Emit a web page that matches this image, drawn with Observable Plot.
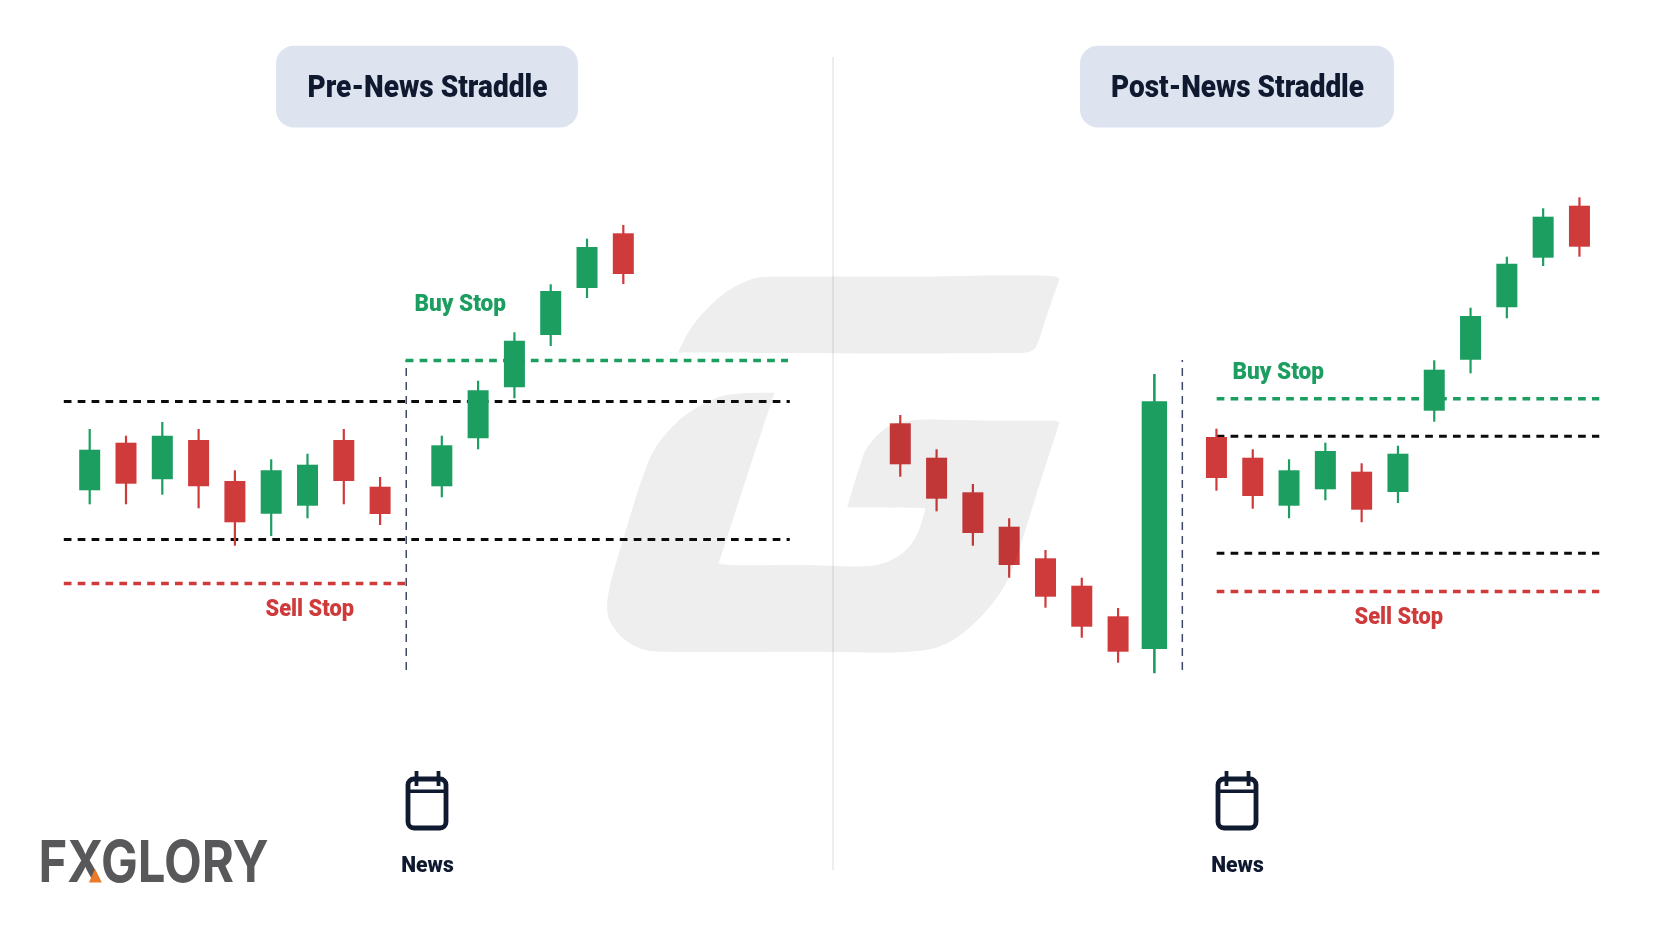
<!DOCTYPE html>
<html>
<head>
<meta charset="utf-8">
<script src="https://cdn.jsdelivr.net/npm/d3@7"></script>
<script src="https://cdn.jsdelivr.net/npm/@observablehq/plot@0.6"></script>
<style>
html,body{margin:0;padding:0;background:#fff}
svg{display:block}
</style>
</head>
<body>
<div id="chart"></div>
<script>
// ---- Candles: bars are in candle-spacing units, prices in chart units ----
const preBars = [0,1,2,3,4,5,6,7,8,9.7,10.7,11.7,12.7,13.7,14.7];
const preOpen  = [437.7,485.3,448.7,488,447,414.3,422.3,488,441.3,441.7,489.7,540.7,593,640,694.7];
const preClose = [478.3,444.3,492.3,441.7,405.7,457.7,463.3,447,414,482.7,537.7,587.3,637,681,654];
const preHigh  = [499,492.3,506,499,457.7,468.7,474.3,499,451,492.3,547.3,595.7,643.7,689.3,703];
const preLow   = [423.7,423.7,433.3,419.7,382.3,392,409.7,423.7,403,430.7,478.7,529.7,582,630,644];

const postBars = [22.33,23.33,24.33,25.33,26.33,27.33,28.33,29.33,31.04,32.04,33.04,34.04,35.04,36.04,37.04,38.04,39.04,40.04,41.04];
const postOpen  = [504.7,470.3,435.7,401.3,369.7,342.3,311.7,279,491,470.3,422.3,438.7,456.3,436,517.3,568.3,620.7,670.3,722.3];
const postClose = [463.7,429.3,395,363,331.3,301.3,276.3,526.7,450,432,457.7,477,418.3,474.3,558.3,612,664.3,711.3,681.3];
const postHigh  = [513,478.7,444,409.7,378,350.3,320,554,499.3,478.7,468.7,485.3,464.7,482.3,567.7,620.3,671.3,719.7,730.7];
const postLow   = [451.3,416.7,382.3,350.3,320.3,290.3,265.3,254.7,437.3,419.3,409.7,427.7,405.7,425,506.3,554.7,609.7,662,671.3];

// ---- Levels ----
const levelNames = ["upper","lower","buy","sell","upper","lower","buy","sell"];
const levelPrice = [527,389,568,345,492.3,375.3,529.7,337];
const levelFrom  = [-0.7,-0.7,8.72,-0.7,31.06,31.06,31.06,31.06];
const levelTo    = [19.3,19.3,19.25,8.72,41.6,41.6,41.6,41.6];

const newsBars = [8.72,30.1];
const newsTop = 568;
const newsBottom = 258;

// ---- Text ----
const panelTitles = ["Pre-News Straddle","Post-News Straddle"];
const panelCenters = [427,1237];
const stopLabels = ["Buy Stop","Sell Stop","Buy Stop","Sell Stop"];
const newsLabel = "News";
const logoText = "FXGLORY";

// ---- Page furniture outlines (page coordinates; repeated points keep corners sharp) ----
const markTop = [[678.3,350.7],[678.3,350.7],[690,328.3],[705,310],[723.3,293.3],[740,283.3],[756.7,277.3],[776.7,276.3],[900,276.3],[1055,276.3],[1059,278.3],[1059,278.3],[1047,313],[1035,347.3],[1031.7,350],[1023.3,352.3],[1010,352.5],[890,353],[780,352.5],[678.3,352],[678.3,352]];
const markBottom = [[774,392.3],[774,392.3],[746.7,392.7],[723.3,395],[706.7,401.7],[686.7,413.3],[668.3,430],[653.3,450],[643.3,473.3],[623.3,536.7],[610,583.3],[606.7,603.3],[608.3,618.3],[616.7,631.7],[630,643.3],[646.7,650],[670,651.3],[800,651.3],[906.7,651.3],[936.7,646.7],[956.7,636.7],[980,616.7],[1000,591.7],[1010,573.3],[1035,497],[1059,421.7],[1059,421.7],[1055,420.3],[1055,420.3],[980,420],[910,420],[890,425],[876.7,435],[865,450],[860,463.3],[846.7,506.7],[846.7,506.7],[885,507],[925,507.7],[925,507.7],[918.3,530],[908.3,546.7],[893.3,558.3],[873.3,565],[800,564.5],[723.3,564],[718.3,562.7],[718.3,562.7],[746,477],[774,392.3],[774,392.3]];
const logoWedge = [[95,867],[103,883],[88,883]];

// ---- Styles ----
const GREEN = "#1b9e5f", RED = "#cf3a3b", BLACK = "#0b0b0b", INK = "#0f1a30";
const levelColor = {upper:BLACK, lower:BLACK, buy:GREEN, sell:RED};

// page pixel -> scale units
const STEP = 36.3, ORIGIN = 89.2;
const bx = px => (px - ORIGIN) / STEP;
const by = py => 928 - py;
const pts = a => a.map(([x,y]) => ({x:bx(x), y:by(y)}));

const candles = (bars,o,c,h,l) => bars.map((bar,i) => ({bar,open:o[i],close:c[i],high:h[i],low:l[i]}));
const allCandles = [...candles(preBars,preOpen,preClose,preHigh,preLow), ...candles(postBars,postOpen,postClose,postHigh,postLow)];
const big = d => Math.abs(d.open - d.close) > 100;
const color = d => d.close > d.open ? GREEN : RED;

const levels = levelPrice.map((price,i) => ({price,x1:levelFrom[i],x2:levelTo[i],name:levelNames[i]}));

const titleBoxes = [
  {x1:bx(276),x2:bx(578),y1:by(45.7),y2:by(127.5)},
  {x1:bx(1080),x2:bx(1394),y1:by(45.7),y2:by(127.5)}
];
const titles = panelTitles.map((t,i) => ({t,x:bx(panelCenters[i]),y:by(87)}));
const stops = [
  {t:stopLabels[0],x:bx(414),y:by(303),c:GREEN},
  {t:stopLabels[1],x:bx(265),y:by(607.5),c:RED},
  {t:stopLabels[2],x:bx(1232),y:by(370.5),c:GREEN},
  {t:stopLabels[3],x:bx(1354),y:by(615.5),c:RED}
];
const textWidths = {"Pre-News Straddle":240,"Post-News Straddle":253,"Buy Stop":91.5,"Sell Stop":88.5,"News":52.5,"FXGLORY":230};

const cal = panelCenters.map(c => ({c}));

const chart = Plot.plot({
  width:1664, height:928, margin:0,
  style:{background:"#fff"},
  x:{domain:[bx(0),bx(1664)],range:[0,1664],axis:null},
  y:{domain:[0,928],range:[928,0],axis:null},
  marks:[
    Plot.ruleX([bx(832.5)],{y1:by(57),y2:by(870),stroke:"#d8dce8",strokeWidth:1}),
    Plot.rect(titleBoxes,{x1:"x1",x2:"x2",y1:"y1",y2:"y2",fill:"#dde4f0",rx:18}),
    Plot.text(titles,{x:"x",y:"y",text:"t",fill:INK,fontFamily:"Roboto",fontWeight:900,fontSize:30.5,textAnchor:"middle",lineAnchor:"middle"}),
    Plot.ruleX(newsBars,{y1:newsBottom,y2:newsTop,stroke:"#3d4a66",strokeWidth:1.5,strokeDasharray:"8 6"}),
    Plot.ruleY(levels,{y:"price",x1:"x1",x2:"x2",stroke:d=>levelColor[d.name],strokeWidth:d=>d.name==="buy"||d.name==="sell"?3.4:3,strokeDasharray:"7.7 6.2"}),
    Plot.ruleX(allCandles,{x:"bar",y1:"low",y2:"high",stroke:color,strokeWidth:d=>big(d)?2.6:2.2}),
    Plot.ruleX(allCandles,{x:"bar",y1:"open",y2:"close",stroke:color,strokeWidth:d=>big(d)?25.4:21}),
    // watermark laid over the candles
    Plot.line(pts(markTop),{x:"x",y:"y",fill:"#eeeeee",stroke:"none",curve:"catmull-rom",mixBlendMode:"multiply"}),
    Plot.line(pts(markBottom),{x:"x",y:"y",fill:"#eeeeee",stroke:"none",curve:"catmull-rom",mixBlendMode:"multiply"}),
    Plot.text(stops,{x:"x",y:"y",text:"t",fill:"c",fontFamily:"Roboto",fontWeight:900,fontSize:24.5,textAnchor:"start",lineAnchor:"middle"}),
    // News calendars
    Plot.rect(cal,{x1:d=>bx(d.c-19),x2:d=>bx(d.c+19),y1:by(779),y2:by(828),fill:"none",stroke:INK,strokeWidth:4.8,rx:6}),
    Plot.ruleY(cal,{y:by(790.7),x1:d=>bx(d.c-19),x2:d=>bx(d.c+19),stroke:INK,strokeWidth:3.6}),
    Plot.ruleX(cal,{x:d=>bx(d.c-11),y1:by(771),y2:by(786),stroke:INK,strokeWidth:3.8}),
    Plot.ruleX(cal,{x:d=>bx(d.c+11),y1:by(771),y2:by(786),stroke:INK,strokeWidth:3.8}),
    Plot.text(cal,{x:d=>bx(d.c),y:by(864),text:()=>newsLabel,fill:INK,fontFamily:"Roboto",fontWeight:900,fontSize:22,textAnchor:"middle",lineAnchor:"middle"}),
    // Logo
    Plot.text([logoText],{x:bx(38),y:by(862.5),text:d=>d,fill:"#58585a",fontFamily:"Inter",fontWeight:700,fontSize:58,textAnchor:"start",lineAnchor:"middle"}),
    Plot.line(pts(logoWedge),{x:"x",y:"y",fill:"#e87b2a",stroke:"#fff",strokeWidth:2})
  ]
});
chart.querySelectorAll("text").forEach(t => {
  const w = textWidths[t.textContent];
  if (w) { t.setAttribute("textLength", w); t.setAttribute("lengthAdjust","spacingAndGlyphs"); }
});
document.getElementById("chart").appendChild(chart);
</script>
</body>
</html>
